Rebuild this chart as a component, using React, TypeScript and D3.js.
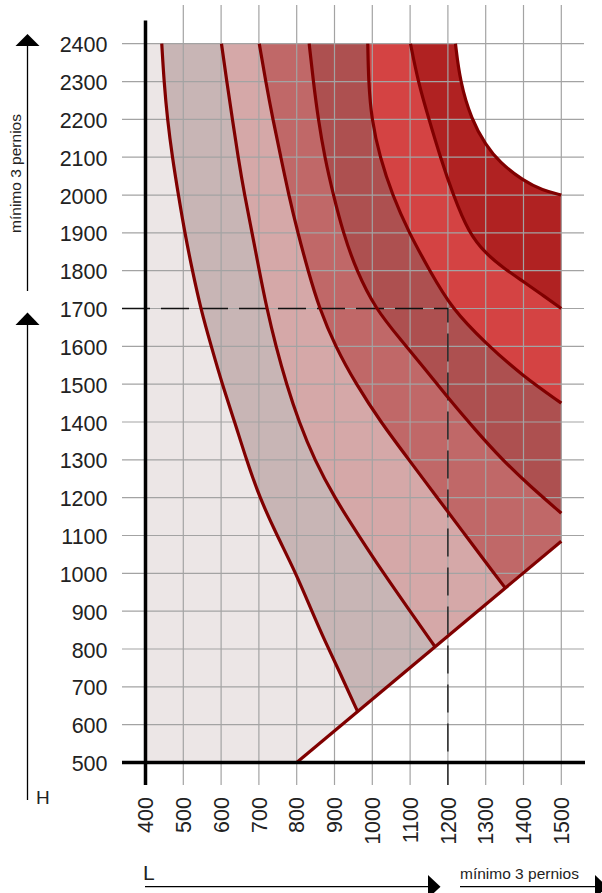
import React from 'react';
import * as d3 from 'd3';

type P = [number, number];

const xTicks = [400, 500, 600, 700, 800, 900, 1000, 1100, 1200, 1300, 1400, 1500];
const yTicks = [500, 600, 700, 800, 900, 1000, 1100, 1200, 1300, 1400, 1500, 1600, 1700, 1800, 1900, 2000, 2100, 2200, 2300, 2400];

const curve1: P[] = [[443, 2400], [449, 2300], [458, 2200], [471, 2100], [487, 2000], [504, 1900], [524, 1800], [546, 1700], [574, 1600], [603, 1500], [636, 1400], [667, 1300], [702, 1200], [748, 1100], [798, 1000], [840, 900], [875, 820], [915, 736], [961, 635]];
const curve2: P[] = [[601, 2400], [615, 2300], [630, 2200], [645, 2100], [662, 2000], [682, 1900], [701, 1800], [721, 1700], [745, 1600], [773, 1500], [806, 1400], [847, 1300], [900, 1200], [964, 1100], [1030, 1000], [1100, 900], [1166, 806]];
const curve3: P[] = [[701, 2400], [718, 2300], [737, 2200], [758, 2100], [779, 2000], [803, 1900], [830, 1800], [860, 1700], [902, 1600], [957, 1500], [1022, 1400], [1097, 1300], [1172, 1200], [1247, 1100], [1322, 1000], [1352, 961]];
const curve4: P[] = [[833, 2400], [844, 2300], [857, 2200], [874, 2100], [897, 2000], [923, 1900], [958, 1800], [1008, 1700], [1073, 1620], [1140, 1540], [1205, 1458], [1272, 1380], [1342, 1302], [1420, 1228], [1500, 1159]];
const curve5: P[] = [[988, 2400], [990, 2300], [998, 2200], [1020, 2100], [1053, 2000], [1097, 1900], [1152, 1800], [1210, 1700], [1300, 1608], [1400, 1520], [1500, 1450]];
const curve6: P[] = [[1101, 2400], [1121, 2300], [1150, 2200], [1180, 2100], [1214, 2000], [1255, 1900], [1300, 1845], [1350, 1805], [1400, 1771], [1450, 1736], [1500, 1700]];
const curve7: P[] = [[1220, 2400], [1232, 2300], [1262, 2200], [1300, 2132], [1336, 2087], [1400, 2037], [1450, 2013], [1500, 2000]];
const diagonal: P[] = [[800, 500], [1500, 1085]];

const curves = [curve1, curve2, curve3, curve4, curve5, curve6, curve7];
const layerColors = ['#ECE6E6', '#C8B5B5', '#D5A8A8', '#C06868', '#AD5050', '#D44343', '#B02222'];
const refPoint: P = [1200, 1700];

const axisLabel = 'mínimo 3 pernios';

const FONT = "'Liberation Sans', Arial, sans-serif";

export default function App() {
  const x = d3.scaleLinear().domain([400, 1500]).range([145.5, 561.3]);
  const y = d3.scaleLinear().domain([500, 2400]).range([762.5, 43.7]);
  const line = d3
    .line<P>()
    .x((d) => x(d[0]))
    .y((d) => y(d[1]))
    .curve(d3.curveBasis);

  const c7 = line(curve7) as string;
  const shape =
    `M${x(400)},${y(500)} L${x(400)},${y(2400)} L` +
    c7.slice(1) +
    ` L${x(diagonal[1][0])},${y(diagonal[1][1])} L${x(diagonal[0][0])},${y(diagonal[0][1])} Z`;

  const layerPath = (c: P[]) => {
    const last = c[c.length - 1];
    return (
      (line(c) as string) +
      ` L${x(1700)},${y(last[1])} L${x(1700)},${y(2600)} L${x(c[0][0])},${y(2600)} Z`
    );
  };

  const gridColor = '#a3a3a3';
  const xLeft = 122;
  const xRight = 584;
  const yTop = 5;
  const yBottom = 785;

  return (
    <svg
      width={602}
      height={893}
      style={{ position: 'absolute', left: 0, top: 0, background: '#fff' }}
    >
      <defs>
        <clipPath id="shapeClip">
          <path d={shape} />
        </clipPath>
      </defs>
      <path d={shape} fill={layerColors[0]} />
      <g clipPath="url(#shapeClip)">
        {curves.slice(0, 6).map((c, i) => (
          <path key={i} d={layerPath(c)} fill={layerColors[i + 1]} />
        ))}
      </g>
      {/* grid */}
      {xTicks.slice(1).map((t) => (
        <line key={'gx' + t} x1={x(t)} x2={x(t)} y1={yTop} y2={yBottom} stroke={gridColor} strokeWidth={1.2} />
      ))}
      {yTicks.slice(1).map((t) => (
        <line key={'gy' + t} x1={xLeft} x2={xRight} y1={y(t)} y2={y(t)} stroke={gridColor} strokeWidth={1.2} />
      ))}
      {/* dashed reference */}
      <path
        d={`M${xLeft},${y(refPoint[1])} L${x(refPoint[0])},${y(refPoint[1])} L${x(refPoint[0])},${yBottom}`}
        fill="none"
        stroke="#111"
        strokeWidth={1.3}
        strokeDasharray="28,11"
      />
      {/* curves */}
      {curves.map((c, i) => (
        <path key={'c' + i} d={line(c) as string} fill="none" stroke="#800000" strokeWidth={3.2} />
      ))}
      <path d={d3.line<P>().x((d) => x(d[0])).y((d) => y(d[1]))(diagonal) as string} fill="none" stroke="#800000" strokeWidth={3.2} />
      {/* axes */}
      <line x1={x(400)} x2={x(400)} y1={20.5} y2={yBottom} stroke="#000" strokeWidth={3.5} />
      <line x1={xLeft} x2={585} y1={y(500)} y2={y(500)} stroke="#000" strokeWidth={3.5} />
      {/* y tick labels */}
      {yTicks.map((t) => (
        <text key={'ty' + t} x={107.5} y={y(t) + 8.5} textAnchor="end" fontFamily={FONT} fontSize={21.5} fill="#222">
          {t}
        </text>
      ))}
      {/* x tick labels */}
      {xTicks.map((t) => (
        <text
          key={'tx' + t}
          transform={`translate(${x(t)},797) rotate(-90)`}
          dy={7.7}
          textAnchor="end"
          fontFamily={FONT}
          fontSize={21.5}
          fill="#222"
        >
          {t}
        </text>
      ))}
      {/* left arrows */}
      <line x1={27.5} x2={27.5} y1={291} y2={45} stroke="#000" strokeWidth={1.3} />
      <path d="M27.5,34 L39.5,46 L15.5,46 Z" fill="#000" />
      <line x1={27.5} x2={27.5} y1={800} y2={324} stroke="#000" strokeWidth={1.3} />
      <path d="M27.5,312.5 L39.5,325 L15.5,325 Z" fill="#000" />
      <text transform="translate(20.5,173.5) rotate(-90)" textAnchor="middle" fontFamily={FONT} fontSize={15.5} fill="#222">
        {axisLabel}
      </text>
      <text x={36} y={803.5} fontFamily={FONT} fontSize={19} fill="#222">
        H
      </text>
      {/* bottom arrows */}
      <text x={143} y={879.5} fontFamily={FONT} fontSize={21} fill="#222">
        L
      </text>
      <line x1={145} x2={429} y1={886.7} y2={886.7} stroke="#000" strokeWidth={1.3} />
      <path d="M440.5,886.7 L428,875 L428,898.5 Z" fill="#000" />
      <text x={460} y={878.5} fontFamily={FONT} fontSize={15.5} fill="#222">
        {axisLabel}
      </text>
      <line x1={460} x2={596} y1={886.7} y2={886.7} stroke="#000" strokeWidth={1.3} />
      <path d="M607,886.7 L595,875 L595,898.5 Z" fill="#000" />
    </svg>
  );
}
